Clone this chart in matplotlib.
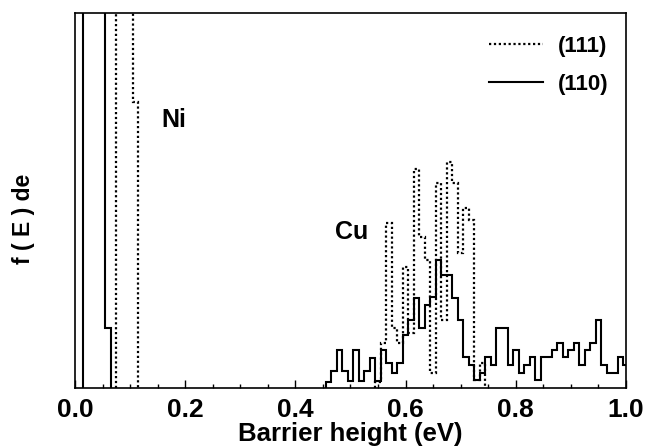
import matplotlib
matplotlib.use("Agg")
import matplotlib.pyplot as plt
import numpy as np
from matplotlib.lines import Line2D
from matplotlib.ticker import MultipleLocator

plt.rcParams['font.family'] = ['Liberation Sans', 'DejaVu Sans']
plt.rcParams['font.weight'] = 'bold'

# histogram bins are 0.01 eV wide, given by the centre of the first bin
bin_width = 0.01

# Ni peaks (values of 1000 run off the top of the plot)
ni110_start = 0.02
ni110 = [1000, 1000, 1000, 1000, 60]
ni111_start = 0.08
ni111 = [1000, 1000, 1000, 286]

# Cu distributions
cu110_start = 0.46
cu110 = [6, 17, 38, 17, 7, 38, 7, 17, 30, 7,
         38, 25, 15, 25, 53, 68, 90, 60, 83, 91,
         128, 113, 113, 90, 68, 31, 23, 8, 15, 31,
         23, 60, 60, 23, 38, 15, 23, 31, 8, 31,
         31, 38, 45, 31, 38, 45, 23, 38, 45, 68,
         23, 15, 15, 31, 23]
cu111_start = 0.55
cu111 = [6, 45, 165, 60, 45, 121, 55, 219, 151, 128,
         15, 205, 68, 226, 205, 135, 180, 168, 8, 25]

dotted = (0, (1, 1.2))

fig = plt.figure(figsize=(6.48, 4.46), dpi=100)
ax = fig.add_axes([0.1157, 0.130, 0.8503, 0.841])

series = [(ni110_start, ni110, '-', 1.5), (cu110_start, cu110, '-', 1.5),
          (ni111_start, ni111, dotted, 1.6), (cu111_start, cu111, dotted, 1.6)]
for start, vals, ls, lw in series:
    edges = start - bin_width / 2 + bin_width * np.arange(len(vals) + 1)
    ax.stairs(vals, edges, baseline=0, color='black', lw=lw, linestyle=ls)

ax.set_xlim(0, 1)
ax.set_ylim(0, 375)
ax.set_yticks([])
ax.xaxis.set_major_locator(MultipleLocator(0.2))
ax.xaxis.set_minor_locator(MultipleLocator(0.05))
ax.tick_params(axis='x', which='major', direction='in', length=6, width=1,
               labelsize=19, pad=7)
ax.tick_params(axis='x', which='minor', direction='in', length=3, width=1)
for sp in ax.spines.values():
    sp.set_linewidth(1.2)

ax.set_xlabel('Barrier height (eV)', fontsize=18.5, fontweight='bold', labelpad=0)
fig.text(0.036, 0.51, 'f ( E ) de', rotation=90, fontsize=16.5,
         fontweight='bold', ha='center', va='center')

ax.text(0.18, 268, 'Ni', fontsize=18, fontweight='bold', ha='center', va='center')
ax.text(0.503, 156, 'Cu', fontsize=18, fontweight='bold', ha='center', va='center')

handles = [Line2D([], [], color='black', lw=1.6, linestyle=dotted),
           Line2D([], [], color='black', lw=1.5)]
ax.legend(handles, ['(111)', '(110)'], loc='upper right',
          bbox_to_anchor=(0.985, 0.962), frameon=False, borderaxespad=0,
          handlelength=2.4, handletextpad=0.7, labelspacing=0.75,
          prop={'size': 16, 'weight': 'bold'})

fig.savefig('out.png', dpi=100)
